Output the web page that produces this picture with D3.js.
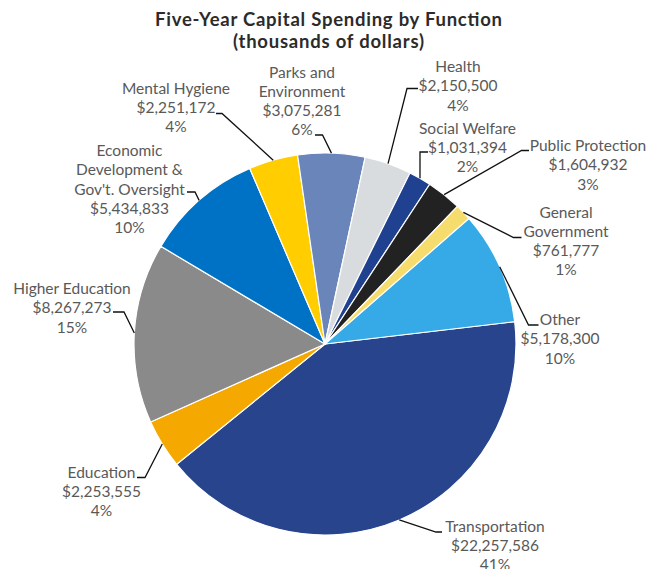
<!DOCTYPE html>
<html>
<head>
<meta charset="utf-8">
<script src="https://cdn.jsdelivr.net/npm/d3@7"></script>
<style>
  html, body { margin: 0; padding: 0; background: #fff; }
  svg { display: block; }
</style>
</head>
<body>
<svg id="chart" width="650" height="569"></svg>
<script>
// ---- data (clockwise from Transportation) ----
const categories = ["Transportation", "Education", "Higher Education", "Economic Development & Gov't. Oversight",
  "Mental Hygiene", "Parks and Environment", "Health", "Social Welfare", "Public Protection", "General Government", "Other"];
const values = [22257586, 2253555, 8267273, 5434833, 2251172, 3075281, 2150500, 1031394, 1604932, 761777, 5178300];
const percentLabels = ["41%", "4%", "15%", "10%", "4%", "6%", "4%", "2%", "3%", "1%", "10%"];
const labelLines = [["Transportation"], ["Education"], ["Higher Education"], ["Economic", "Development &", "Gov't. Oversight"],
  ["Mental Hygiene"], ["Parks and", "Environment"], ["Health"], ["Social Welfare"], ["Public Protection"], ["General", "Government"], ["Other"]];
const colors = ["#27448c", "#f5a800", "#8a8a8b", "#0072c6", "#ffcd00", "#6a85ba", "#d9dcdf", "#1f4190", "#222222", "#f5dc6c", "#35aae6"];
const titleLines = ["Five-Year Capital Spending by Function", "(thousands of dollars)"];

// ---- layout ----
const W = 650, H = 569;
const cx = 325, cy = 344, R = 191;
const startDeg = 83.3;
// label layout: text center x, first baseline y, leader elbow & end
const labelLayout = [
  { tx: 495, ty: 531.5, elbow: [436, 532], end: [442, 532] },
  { tx: 101.5, ty: 477.5, elbow: [145, 477.5], end: [137, 477.5] },
  { tx: 72, ty: 294, elbow: [124, 312], end: [113, 312] },
  { tx: 129.5, ty: 156, elbow: [195, 192], end: [187, 192] },
  { tx: 176, ty: 93.5, elbow: [222, 113.5], end: [216, 113.5] },
  { tx: 302, ty: 77.5, elbow: [322.5, 135], end: [315, 135] },
  { tx: 458, ty: 72, elbow: [407, 88.5], end: [418, 88.5] },
  { tx: 467.5, ty: 133.5, elbow: [420, 152], end: [428, 152] },
  { tx: 588, ty: 151, elbow: [521.5, 150.5], end: [529, 150.5] },
  { tx: 566, ty: 217.5, elbow: [513.5, 237.5], end: [521.5, 237.5] },
  { tx: 560, ty: 325, elbow: [528.5, 325], end: [538.5, 325] }
];
const lineH = 19.3;
const titleWidths = [347, 191];

const svg = d3.select("#chart");

// title
const title = svg.append("text")
  .attr("text-anchor", "middle")
  .style("font-family", "Lato, 'Open Sans', sans-serif")
  .style("font-weight", "700").style("font-size", "18.5px").style("fill", "#2b2b2b");
titleLines.forEach((ln, k) => {
  title.append("tspan").attr("x", 328.5).attr("y", 26 + k * 22)
    .attr("textLength", titleWidths[k]).attr("lengthAdjust", "spacing").text(ln);
});

const data = categories.map((c, i) => ({ name: c, value: values[i], color: colors[i], pct: percentLabels[i], lines: labelLines[i], layout: labelLayout[i] }));

const start = startDeg * Math.PI / 180;
const pie = d3.pie().value(d => d.value).sort(null).startAngle(start).endAngle(start + 2 * Math.PI);
const arcs = pie(data);
const arc = d3.arc().innerRadius(0).outerRadius(R);

const g = svg.append("g").attr("transform", `translate(${cx},${cy})`);
g.selectAll("path.slice").data(arcs).join("path")
  .attr("class", "slice")
  .attr("d", arc)
  .attr("fill", d => d.data.color)
  .attr("stroke", "#ffffff")
  .attr("stroke-width", 1.2)
  .attr("stroke-linejoin", "round");

// leader lines and labels
const fmt = d3.format(",");
arcs.forEach(a => {
  const L = a.data.layout;
  const mid = (a.startAngle + a.endAngle) / 2;
  const p0 = [cx + R * Math.sin(mid), cy - R * Math.cos(mid)];
  svg.append("polyline")
    .attr("points", [p0, L.elbow, L.end].map(p => p.join(",")).join(" "))
    .attr("fill", "none").attr("stroke", "#111").attr("stroke-width", 1.3);

  const lines = a.data.lines.concat(["$" + fmt(a.data.value), a.data.pct]);
  const t = svg.append("text")
    .attr("text-anchor", "middle")
    .style("font-family", "Lato, 'Open Sans', sans-serif")
    .style("font-size", "15.5px").style("fill", "#595959");
  lines.forEach((ln, k) => {
    t.append("tspan").attr("x", L.tx).attr("y", L.ty + k * lineH).text(ln);
  });
});
</script>
</body>
</html>
